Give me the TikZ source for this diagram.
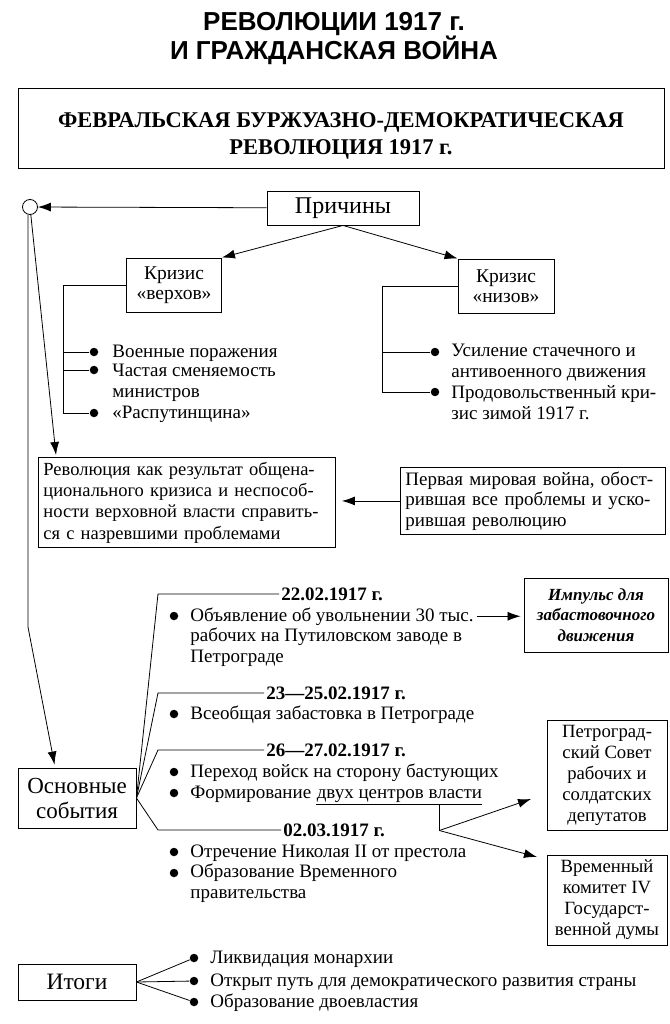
\documentclass[tikz,border=0pt]{standalone}
\usepackage{fontspec}
\setmainfont{Liberation Serif}
\newfontfamily\headfont{Liberation Sans}
\usepackage{tikz}
\usetikzlibrary{positioning,arrows.meta,calc}
\tikzset{
block/.style={
  draw,
  rectangle,
  align=center,
  line width=0.9pt,
  inner sep=0pt
  },
line/.style={-{Latex[length=13pt,width=9pt]}},
dot/.style={circle, fill, inner sep=0pt, minimum size=8.5pt},
txt/.style={anchor=base west, align=left, inner sep=0pt, font=\fontsize{19}{21}\selectfont},
date/.style={anchor=west, inner xsep=2pt, inner ysep=0pt, font=\bfseries\fontsize{19}{21}\selectfont}
}

\begin{document}
\begin{tikzpicture}[x=1pt,y=-1pt,line width=0.8pt]
\useasboundingbox (0,0) rectangle (669,1024);
\node[align=center, font=\headfont\bfseries\fontsize{26}{29}\selectfont] (ttl) at (334,39) {РЕВОЛЮЦИИ 1917 г.\\И ГРАЖДАНСКАЯ ВОЙНА};
\node[block, minimum width=646pt, minimum height=80pt] (feb) at (341,128) {};
\node[align=center, font=\bfseries\fontsize{22.5}{27}\selectfont] (febt) at ([yshift=-8pt]feb.center) {ФЕВРАЛЬСКАЯ БУРЖУАЗНО-ДЕМОКРАТИЧЕСКАЯ\\РЕВОЛЮЦИЯ 1917 г.};

\node[circle, draw, minimum size=15pt, inner sep=0pt] (hub) at (30,207) {};
\node[block, minimum width=152pt, minimum height=34pt, font=\fontsize{24}{26}\selectfont] (pr) at (343,208) {Причины};
\node[block, minimum width=95pt, minimum height=54pt, font=\fontsize{19.5}{20.5}\selectfont] (kv) at (174,285) {Кризис\\«верхов»};
\node[block, minimum width=96pt, minimum height=54pt, font=\fontsize{19.5}{20.5}\selectfont] (kn) at (506,286) {Кризис\\«низов»};
\draw[line] (pr) -- (hub);
\draw[line] (pr.south) -- (kv.north east);
\draw[line] (pr.south) -- (kn.north west);

\node[dot] (v1) at (94,352) {};
\node[dot] (v2) at (94,370) {};
\node[dot] (v3) at (94,413) {};
\node[txt] (tv1) at (112,357) {Военные поражения};
\node[txt] (tv2) at (112,397) {Частая сменяемость\\министров};
\node[txt] (tv3) at (112,418) {«Распутинщина»};
\coordinate (lv) at (63,413);
\draw (kv.west) -| (lv) -- (v3);
\draw (v1) -- (v1 -| lv);
\draw (v2) -- (v2 -| lv);

\node[dot] (n1) at (435,352) {};
\node[dot] (n2) at (435,392) {};
\node[txt] (tn1) at (451,377) {Усиление стачечного и\\антивоенного движения};
\node[txt] (tn2) at (451,419) {Продовольственный кри-\\зис зимой 1917 г.};
\coordinate (ln) at (382,392);
\draw (kn.west) -| (ln) -- (n2);
\draw (n1) -- (n1 -| ln);

\node[block, anchor=north west, align=left, text width=287pt, minimum height=90pt, inner xsep=5pt, font=\fontsize{18.5}{21.3}\selectfont] (rev) at (38,457) {Революция как результат общена-\\ционального кризиса и неспособ-\\ности верховной власти справить-\\ся с назревшими проблемами};
\node[block, anchor=north west, align=left, text width=255pt, minimum height=67pt, inner xsep=5pt, font=\fontsize{19}{20.5}\selectfont] (perv) at (400,467) {Первая мировая война, обост-\\рившая все проблемы и уско-\\рившая революцию};
\draw[line, shorten >=6pt] (perv.west) -- (perv.west -| rev.east);
\coordinate (ra) at (56,455);
\draw[line] (hub) -- (ra);

\node[block, minimum width=118pt, minimum height=60pt, font=\fontsize{23}{25}\selectfont] (osn) at (77,798) {Основные\\события};
\coordinate (bend) at (28,627);
\draw[line] (hub.south -| bend) -- (bend) -- ($(osn.north west)+(37,-3)$);

\node[date] (d1) at (279,594) {22.02.1917 г.};
\node[date] (d2) at (264,693) {23—25.02.1917 г.};
\node[date] (d3) at (264,750) {26—27.02.1917 г.};
\node[date] (d4) at (281,830) {02.03.1917 г.};
\coordinate (k) at (158,0);
\draw (osn.east) -- (d1.west -| k) -- (d1.west);
\draw (osn.east) -- (d2.west -| k) -- (d2.west);
\draw (osn.east) -- (d3.west -| k) -- (d3.west);
\draw (osn.east) -- (d4.west -| k) -- (d4.west);

\node[dot] (e1) at (174,616) {};
\node[dot] (e2) at (174,714) {};
\node[dot] (e3) at (174,772) {};
\node[dot] (e4) at (174,793) {};
\node[dot] (e5) at (174,852) {};
\node[dot] (e6) at (174,873) {};
\node[txt] (ob) at (190,621) {Объявление об увольнении 30 тыс.};
\node[txt] (ob2) at (190,662) {рабочих на Путиловском заводе в\\Петрограде};
\node[txt] (te2) at (190,719) {Всеобщая забастовка в Петрограде};
\node[txt] (te3) at (190,777) {Переход войск на сторону бастующих};
\node[txt] (fo) at (190,798) {Формирование};
\node[txt, inner ysep=2pt] (dv) at ([xshift=4.75pt]fo.base east) {двух центров власти};
\node[txt] (te5) at (190,857) {Отречение Николая II от престола};
\node[txt] (te6) at (190,898) {Образование Временного\\правительства};

\node[block, minimum width=144pt, minimum height=74pt, font=\bfseries\itshape\fontsize{17}{20.5}\selectfont] (imp) at (596,615) {Импульс для\\забастовочного\\движения};
\draw[line, shorten <=3pt, shorten >=3pt] (ob.east) -- (ob.east -| imp.west);

\node[block, minimum width=120pt, minimum height=110pt, font=\fontsize{18.7}{21}\selectfont] (sov) at (607,775) {Петроград-\\ский Совет\\рабочих и\\солдатских\\депутатов};
\node[block, minimum width=120pt, minimum height=90pt, font=\fontsize{18.7}{21}\selectfont] (vrk) at (607,900) {Временный\\комитет IV\\Государст-\\венной думы};
\draw (dv.south west) -- (dv.south east);
\coordinate (br) at ($(dv.south west)!0.74!(dv.south east)$);
\coordinate (fk) at ($(br)+(0,26)$);
\coordinate (t1) at (531,799);
\coordinate (t2) at (537,857);
\draw (br) -- (fk);
\draw[line] (fk) -- (t1);
\draw[line] (fk) -- (t2);

\node[block, minimum width=118pt, minimum height=36pt, font=\fontsize{23.5}{25}\selectfont] (itg) at (77,982) {Итоги};
\node[dot] (i1) at (194,958) {};
\node[dot] (i2) at (194,981) {};
\node[dot] (i3) at (194,1002) {};
\node[txt] (ti1) at (210,963) {Ликвидация монархии};
\node[txt] (ti2) at (210,986) {Открыт путь для демократического развития страны};
\node[txt] (ti3) at (210,1007) {Образование двоевластия};
\draw (itg.east) -- (i1);
\draw (itg.east) -- (i2);
\draw (itg.east) -- (i3);
\end{tikzpicture}
\end{document}
